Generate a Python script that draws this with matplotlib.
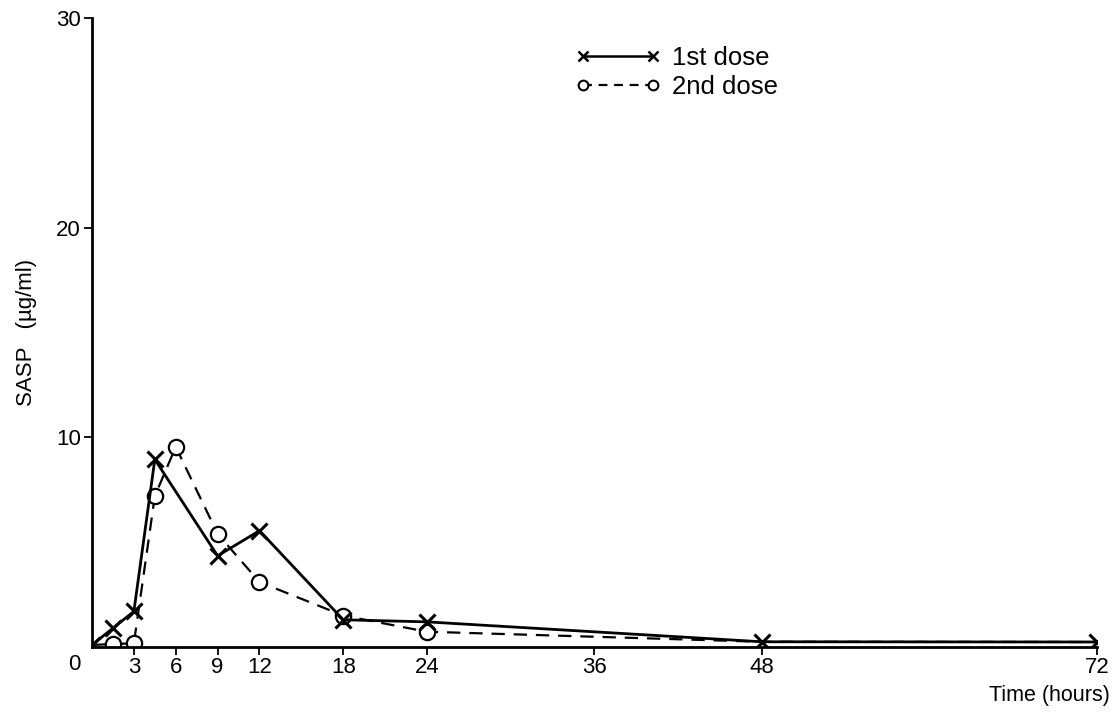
import matplotlib.pyplot as plt
from matplotlib.lines import Line2D

plt.rcParams['font.family'] = ['Liberation Sans', 'DejaVu Sans']

# SASP serum level after each dose (hours, ug/ml)
hours_1st = [0, 1.5, 3, 4.5, 9, 12, 18, 24, 48, 72]
sasp_1st = [0.1, 0.9, 1.7, 8.95, 4.35, 5.55, 1.3, 1.2, 0.25, 0.24]

hours_2nd = [0, 1.5, 3, 4.5, 6, 9, 12, 18, 24, 48, 72]
sasp_2nd = [0.1, 0.14, 0.18, 7.2, 9.55, 5.4, 3.1, 1.5, 0.73, 0.25, 0.24]

x_ticks = [3, 6, 9, 12, 18, 24, 36, 48, 72]
y_ticks = [10, 20, 30]

fig = plt.figure(figsize=(11.14, 7.17), dpi=100)
ax = fig.add_axes([0.0826, 0.0976, 0.902, 0.877])

ax.plot(hours_2nd, sasp_2nd, color='black', lw=1.6, ls=(0, (6, 4)),
        marker='o', ms=11, mfc='white', mec='black', mew=1.6,
        markevery=list(range(1, 9)), zorder=2)
ax.plot(hours_1st, sasp_1st, color='black', lw=2, ls='-',
        marker='x', ms=11, mec='black', mew=2.2, zorder=3)

ax.set_xlim(0, 72)
ax.set_ylim(0, 30)
ax.set_xticks(x_ticks)
ax.set_xticklabels([str(t) for t in x_ticks])
ax.set_yticks(y_ticks)
ax.set_yticklabels([str(t) for t in y_ticks])
ax.tick_params(direction='out', length=6, width=1.3, labelsize=16, pad=2)
ax.tick_params(axis='x', pad=1)

for side in ['top', 'right']:
    ax.spines[side].set_visible(False)
for side in ['left', 'bottom']:
    ax.spines[side].set_linewidth(2)

ax.text(-0.8, -0.35, '0', fontsize=16, ha='right', va='top')
ax.set_ylabel('SASP   (\u00b5g/ml)', fontsize=16, labelpad=14)
fig.text(0.996, 0.015, 'Time (hours)', fontsize=15.5, ha='right', va='bottom')

handles = [
    Line2D([], [], color='black', lw=1.8, marker='x', ms=7, mew=1.8),
    Line2D([], [], color='black', lw=1.6, ls=(0, (4, 3)), marker='o',
           ms=7, mfc='white', mew=1.5),
]
fig.legend(handles, ['1st dose', '2nd dose'], loc='upper left',
           bbox_to_anchor=(0.496, 0.968), frameon=False, numpoints=2,
           handlelength=3.3, handletextpad=0.45, labelspacing=0.2,
           fontsize=18.5)

fig.savefig('out.png', dpi=100)
